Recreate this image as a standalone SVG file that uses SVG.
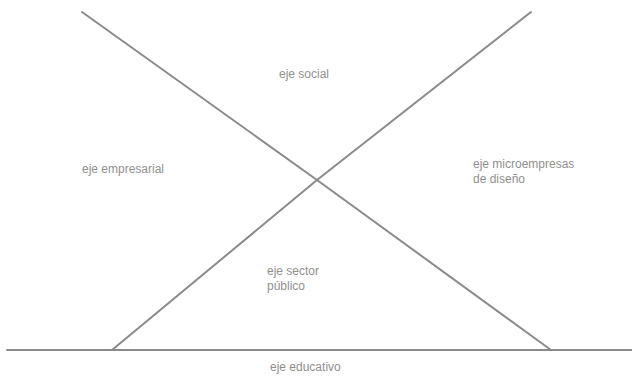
<svg xmlns="http://www.w3.org/2000/svg" width="632" height="376" viewBox="0 0 632 376">
<style>
.ln{fill:none;stroke:#8a8a8a;stroke-width:2;stroke-linecap:round;stroke-linejoin:round}
.lb{font-family:"Liberation Sans",Arial,sans-serif;font-size:12px;fill:#8f8f8f}
</style>
<rect width="632" height="376" fill="#ffffff"/>
<g id="connectors">
<polyline class="ln" points="82,12 317,180 551,350"/>
<polyline class="ln" points="531,12 317,180 112,350"/>
<line class="ln" x1="7" y1="350" x2="632" y2="350" stroke-width="2.4"/>
</g>
<g id="eje-social"><text class="lb" x="279" y="78">eje social</text></g>
<g id="eje-empresarial"><text class="lb" x="82" y="173">eje empresarial</text></g>
<g id="eje-microempresas"><text class="lb" x="473" y="168">eje microempresas</text><text class="lb" x="473" y="183">de diseño</text></g>
<g id="eje-sector-publico"><text class="lb" x="267" y="275">eje sector</text><text class="lb" x="267" y="290">público</text></g>
<g id="eje-educativo"><text class="lb" x="270" y="371">eje educativo</text></g>
</svg>
